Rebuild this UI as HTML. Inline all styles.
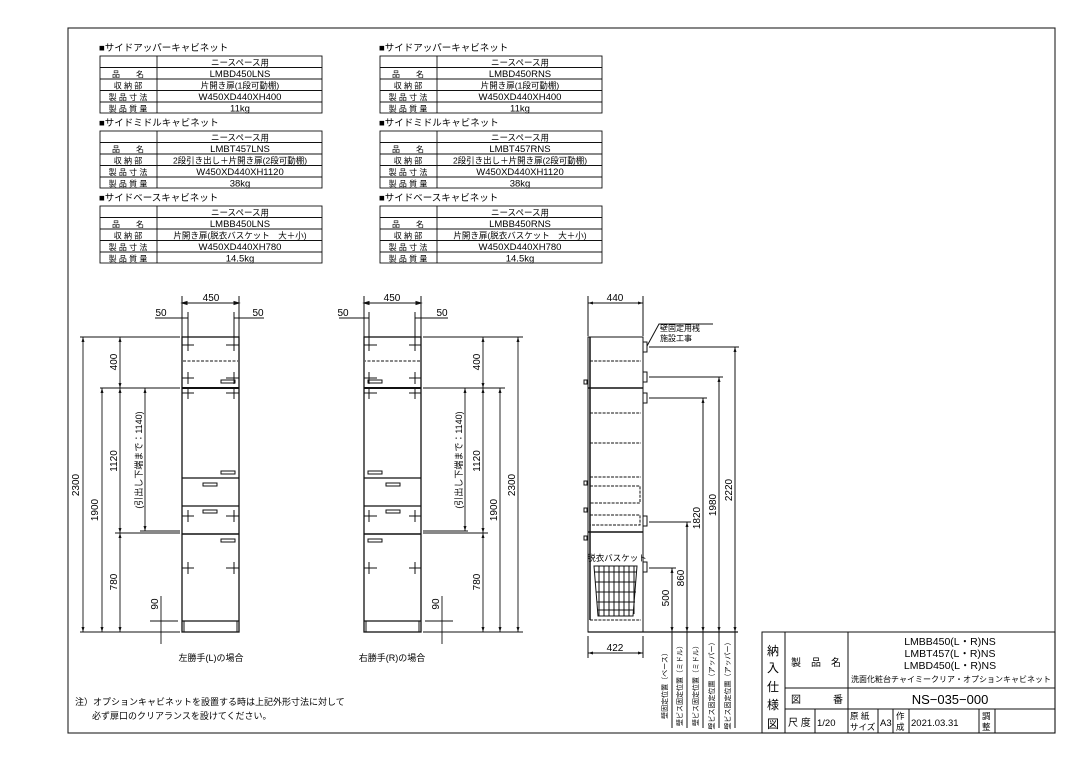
<!DOCTYPE html>
<html><head><meta charset="utf-8"><style>
html,body{margin:0;padding:0;background:#fff}
svg{display:block}
text{font-family:"Liberation Sans","Noto Sans CJK JP",sans-serif;fill:#000}
</style></head><body>
<svg width="1080" height="764" viewBox="0 0 1080 764" xmlns="http://www.w3.org/2000/svg">
<rect width="1080" height="764" fill="#fff"/>
<rect x="68" y="28" width="987" height="705" fill="none" stroke="#222" stroke-width="1.1"/>

<g font-size="9.5">
<text x="99" y="51">■サイドアッパーキャビネット</text>
<text x="99" y="126">■サイドミドルキャビネット</text>
<text x="99" y="201">■サイドベースキャビネット</text>
<text x="379" y="51">■サイドアッパーキャビネット</text>
<text x="379" y="126">■サイドミドルキャビネット</text>
<text x="379" y="201">■サイドベースキャビネット</text>
</g>
<g fill="none" stroke="#111" stroke-width="0.9">
<rect x="100" y="56" width="222" height="57"/><line x1="157" y1="56" x2="157" y2="113"/>
<line x1="100" y1="67.5" x2="322" y2="67.5"/><line x1="100" y1="79" x2="322" y2="79"/><line x1="100" y1="90.5" x2="322" y2="90.5"/><line x1="100" y1="102" x2="322" y2="102"/>
<rect x="100" y="131" width="222" height="57"/><line x1="157" y1="131" x2="157" y2="188"/>
<line x1="100" y1="142.5" x2="322" y2="142.5"/><line x1="100" y1="154" x2="322" y2="154"/><line x1="100" y1="165.5" x2="322" y2="165.5"/><line x1="100" y1="177" x2="322" y2="177"/>
<rect x="100" y="206" width="222" height="57"/><line x1="157" y1="206" x2="157" y2="263"/>
<line x1="100" y1="217.5" x2="322" y2="217.5"/><line x1="100" y1="229" x2="322" y2="229"/><line x1="100" y1="240.5" x2="322" y2="240.5"/><line x1="100" y1="252" x2="322" y2="252"/>
<rect x="380" y="56" width="222" height="57"/><line x1="437" y1="56" x2="437" y2="113"/>
<line x1="380" y1="67.5" x2="602" y2="67.5"/><line x1="380" y1="79" x2="602" y2="79"/><line x1="380" y1="90.5" x2="602" y2="90.5"/><line x1="380" y1="102" x2="602" y2="102"/>
<rect x="380" y="131" width="222" height="57"/><line x1="437" y1="131" x2="437" y2="188"/>
<line x1="380" y1="142.5" x2="602" y2="142.5"/><line x1="380" y1="154" x2="602" y2="154"/><line x1="380" y1="165.5" x2="602" y2="165.5"/><line x1="380" y1="177" x2="602" y2="177"/>
<rect x="380" y="206" width="222" height="57"/><line x1="437" y1="206" x2="437" y2="263"/>
<line x1="380" y1="217.5" x2="602" y2="217.5"/><line x1="380" y1="229" x2="602" y2="229"/><line x1="380" y1="240.5" x2="602" y2="240.5"/><line x1="380" y1="252" x2="602" y2="252"/>
</g>
<g font-size="9.5" text-anchor="middle">
<text x="240" y="65.5" font-size="8.5">ニースペース用</text>
<text x="128" y="77" font-size="8">品　　名</text><text x="240" y="77">LMBD450LNS</text>
<text x="128" y="88.5" font-size="8">収 納 部</text><text x="240" y="88.5" font-size="8.5">片開き扉(1段可動棚)</text>
<text x="128" y="100" font-size="8">製 品 寸 法</text><text x="240" y="100">W450XD440XH400</text>
<text x="128" y="111.5" font-size="8">製 品 質 量</text><text x="240" y="111.5">11kg</text>
<text x="240" y="140.5" font-size="8.5">ニースペース用</text>
<text x="128" y="152" font-size="8">品　　名</text><text x="240" y="152">LMBT457LNS</text>
<text x="128" y="163.5" font-size="8">収 納 部</text><text x="240" y="163.5" font-size="8.5">2段引き出し＋片開き扉(2段可動棚)</text>
<text x="128" y="175" font-size="8">製 品 寸 法</text><text x="240" y="175">W450XD440XH1120</text>
<text x="128" y="186.5" font-size="8">製 品 質 量</text><text x="240" y="186.5">38kg</text>
<text x="240" y="215.5" font-size="8.5">ニースペース用</text>
<text x="128" y="227" font-size="8">品　　名</text><text x="240" y="227">LMBB450LNS</text>
<text x="128" y="238.5" font-size="8">収 納 部</text><text x="240" y="238.5" font-size="8.5">片開き扉(脱衣バスケット　大＋小)</text>
<text x="128" y="250" font-size="8">製 品 寸 法</text><text x="240" y="250">W450XD440XH780</text>
<text x="128" y="261.5" font-size="8">製 品 質 量</text><text x="240" y="261.5">14.5kg</text>
<text x="520" y="65.5" font-size="8.5">ニースペース用</text>
<text x="408" y="77" font-size="8">品　　名</text><text x="520" y="77">LMBD450RNS</text>
<text x="408" y="88.5" font-size="8">収 納 部</text><text x="520" y="88.5" font-size="8.5">片開き扉(1段可動棚)</text>
<text x="408" y="100" font-size="8">製 品 寸 法</text><text x="520" y="100">W450XD440XH400</text>
<text x="408" y="111.5" font-size="8">製 品 質 量</text><text x="520" y="111.5">11kg</text>
<text x="520" y="140.5" font-size="8.5">ニースペース用</text>
<text x="408" y="152" font-size="8">品　　名</text><text x="520" y="152">LMBT457RNS</text>
<text x="408" y="163.5" font-size="8">収 納 部</text><text x="520" y="163.5" font-size="8.5">2段引き出し＋片開き扉(2段可動棚)</text>
<text x="408" y="175" font-size="8">製 品 寸 法</text><text x="520" y="175">W450XD440XH1120</text>
<text x="408" y="186.5" font-size="8">製 品 質 量</text><text x="520" y="186.5">38kg</text>
<text x="520" y="215.5" font-size="8.5">ニースペース用</text>
<text x="408" y="227" font-size="8">品　　名</text><text x="520" y="227">LMBB450RNS</text>
<text x="408" y="238.5" font-size="8">収 納 部</text><text x="520" y="238.5" font-size="8.5">片開き扉(脱衣バスケット　大＋小)</text>
<text x="408" y="250" font-size="8">製 品 寸 法</text><text x="520" y="250">W450XD440XH780</text>
<text x="408" y="261.5" font-size="8">製 品 質 量</text><text x="520" y="261.5">14.5kg</text>
</g>

<defs>
<g id="cab" fill="none" stroke="#111" stroke-width="1">
<rect x="182" y="337" width="57" height="295" stroke-width="1.3"/>
<line x1="182" y1="388" x2="239" y2="388" stroke-width="2"/>
<line x1="183" y1="361" x2="238" y2="361" stroke-dasharray="3,1.5"/>
<line x1="182" y1="478" x2="239" y2="478" stroke-width="1.3"/>
<line x1="182" y1="506" x2="239" y2="506" stroke-width="1.3"/>
<line x1="182" y1="534" x2="239" y2="534" stroke-width="1.6"/>
<line x1="182" y1="621" x2="239" y2="621" stroke-width="1.3"/>
<line x1="184" y1="621" x2="184" y2="632"/><line x1="237" y1="621" x2="237" y2="632"/>
<rect x="221" y="380" width="14" height="3"/>
<rect x="221" y="471" width="14" height="3"/>
<rect x="203" y="483" width="14" height="3"/>
<rect x="203" y="510" width="14" height="3"/>
<rect x="221" y="539" width="14" height="3"/>
<path d="M182 345h12M188 339v12M226 345h13M234 339v12M182 378h12M188 372v12M226 378h13M234 372v12M182 393h12M188 389v10M226 393h13M234 389v10M182 516h12M188 510v12M226 516h13M234 510v12M182 568h12M188 562v12M226 568h13M234 562v12"/>
<path d="M182 296v42M239 296v42M182 303h57M155 318h27M239 318h25M188 312v30M234 312v30M182 318h6M234 318h5"/>
<path d="M182 303l5 -1.5v3zM239 303l-5 -1.5v3z" fill="#111"/>
</g>
</defs>
<use href="#cab"/>
<use href="#cab" transform="matrix(-1 0 0 1 603 0)"/>

<g fill="none" stroke="#111" stroke-width="0.9">
<path d="M80 337h100M100 388h80M115 533h65M80 632h100M140 388h40M140 531h40"/>
<path d="M83 337v295M102 388v244M120 337v295M145 388v143M161 596v48M150 621h28"/>
<path d="M116 388h8M116 533h8M157 632h8"/>
<path d="M423 337h100M423 388h82M423 533h65M423 632h100M423 388h45M423 531h45"/>
<path d="M518 337v295M500 388v244M483 337v295M465 388v143M442 596v48M425 621h28"/>
<path d="M479 388h8M479 533h8M438 632h8"/>
</g>
<g fill="#111">
<path d="M83 337l-1.5 5h3zM83 632l-1.5-5h3zM102 388l-1.5 5h3zM102 632l-1.5-5h3zM120 337l-1.5 5h3zM120 388l-1.5-5h3zM120 388l-1.5 5h3zM120 533l-1.5-5h3zM120 533l-1.5 5h3zM120 632l-1.5-5h3zM145 388l-1.5 5h3zM145 531l-1.5-5h3z"/>
<path d="M518 337l-1.5 5h3zM518 632l-1.5-5h3zM500 388l-1.5 5h3zM500 632l-1.5-5h3zM483 337l-1.5 5h3zM483 388l-1.5-5h3zM483 388l-1.5 5h3zM483 533l-1.5-5h3zM483 533l-1.5 5h3zM483 632l-1.5-5h3zM465 388l-1.5 5h3zM465 531l-1.5-5h3z"/>
</g>
<g font-size="10" text-anchor="middle">
<text x="211" y="301">450</text><text x="161" y="316">50</text><text x="258" y="316">50</text>
<text x="392" y="301">450</text><text x="343" y="316">50</text><text x="442" y="316">50</text>
<text transform="translate(79,485) rotate(-90)">2300</text>
<text transform="translate(98,510) rotate(-90)">1900</text>
<text transform="translate(117,362) rotate(-90)">400</text>
<text transform="translate(117,461) rotate(-90)">1120</text>
<text transform="translate(117,582) rotate(-90)">780</text>
<text transform="translate(158,604) rotate(-90)">90</text>
<text transform="translate(142,460) rotate(-90)" font-size="9">(引出し下端まで：1140)</text>
<text transform="translate(480,362) rotate(-90)">400</text>
<text transform="translate(480,461) rotate(-90)">1120</text>
<text transform="translate(480,582) rotate(-90)">780</text>
<text transform="translate(497,510) rotate(-90)">1900</text>
<text transform="translate(515,485) rotate(-90)">2300</text>
<text transform="translate(439,604) rotate(-90)">90</text>
<text transform="translate(462,460) rotate(-90)" font-size="9">(引出し下端まで：1140)</text>
<text x="211" y="661" font-size="9">左勝手(L)の場合</text>
<text x="392" y="661" font-size="9">右勝手(R)の場合</text>
</g>

<g fill="none" stroke="#111" stroke-width="1">
<rect x="588" y="337" width="55" height="295"/>
<line x1="588" y1="388" x2="643" y2="388" stroke-width="1.4"/>
<line x1="588" y1="532" x2="643" y2="532" stroke-width="1.4"/>
<line x1="590" y1="337" x2="590" y2="620" stroke-width="1.5"/>
<path d="M590 361h51M590 413h51M590 443h51M590 477h51" stroke-dasharray="3,1.2"/>
<rect x="590" y="486" width="50" height="17" stroke-dasharray="3,1.2"/>
<rect x="590" y="515" width="50" height="10" stroke-dasharray="3,1.2"/>
<path d="M590 620h51" stroke-dasharray="3,1.2"/>
<path d="M584 380h3v4h-3zM584 481h3v4h-3zM584 508h3v4h-3zM584 536h3v4h-3z"/>
<path d="M643 342h4v10h-4zM643 372h4v10h-4zM643 393h4v10h-4zM643 516h4v10h-4zM643 562h4v10h-4z"/>
<path d="M594 566h43l-4 50h-35z"/>
<path d="M594 572h43M595 582h41M596 592h40M597 602h38M598 610h36"/>
<path d="M599 566v50M604 566v50M609 566v50M614 566v50M619 566v50M624 566v50M629 566v50M634 566v48"/>
<path d="M588 296v40M643 296v40M588 303h55M588 636v22M643 636v22M588 653h55"/>
<path d="M588 632h150" stroke-width="1.3"/>
<path d="M649 347h90M649 377h74M649 398h58M649 522h42M649 568h27"/>
<path d="M735 347v285M719 377v255M703 398v234M687 522v110M672 568v64"/>
<path d="M672 632v96M687 632v96M703 632v96M719 632v96M735 632v96"/>
<path d="M647 346l12-22h54"/>
</g>
<g fill="#111">
<path d="M588 303l5-1.5v3zM643 303l-5-1.5v3zM588 653l5-1.5v3zM643 653l-5-1.5v3z"/>
<path d="M735 347l-1.5 5h3zM719 377l-1.5 5h3zM703 398l-1.5 5h3zM687 522l-1.5 5h3zM672 568l-1.5 5h3z"/>
<path d="M735 632l-1.5-5h3zM719 632l-1.5-5h3zM703 632l-1.5-5h3zM687 632l-1.5-5h3zM672 632l-1.5-5h3z"/>
</g>
<g font-size="10" text-anchor="middle">
<text x="615" y="301">440</text><text x="615" y="651">422</text>
<text x="660" y="331" font-size="8" text-anchor="start">壁固定用桟</text>
<text x="660" y="341" font-size="8" text-anchor="start">施設工事</text>
<text x="617" y="561" font-size="8.5">脱衣バスケット</text>
<text transform="translate(669,598) rotate(-90)">500</text>
<text transform="translate(684,578) rotate(-90)">860</text>
<text transform="translate(700,518) rotate(-90)">1820</text>
<text transform="translate(716,505) rotate(-90)">1980</text>
<text transform="translate(732,490) rotate(-90)">2220</text>
<g font-size="7">
<text transform="translate(667,684) rotate(-90)">壁固定位置（ベース）</text>
<text transform="translate(682,684) rotate(-90)">壁ビス固定位置（ミドル）</text>
<text transform="translate(698,684) rotate(-90)">壁ビス固定位置（ミドル）</text>
<text transform="translate(714,684) rotate(-90)">壁ビス固定位置（アッパー）</text>
<text transform="translate(730,684) rotate(-90)">壁ビス固定位置（アッパー）</text>
</g>
</g>

<text x="75" y="705" font-size="9">注）オプションキャビネットを設置する時は上記外形寸法に対して</text>
<text x="92" y="719" font-size="9">必ず扉口のクリアランスを設けてください。</text>

<g fill="none" stroke="#111" stroke-width="1">
<rect x="762" y="632" width="293" height="101"/>
<path d="M785 632v101M848 632v101M785 688h270M785 709h270M815 709v24M878 709v24M893 709v24M909 709v24M979 709v24M995 709v24"/>
</g>
<g font-size="10">
<text x="767" y="655" font-size="12">納</text><text x="767" y="672" font-size="12">入</text><text x="767" y="691" font-size="12">仕</text><text x="767" y="709" font-size="12">様</text><text x="767" y="728" font-size="12">図</text>
<text x="791" y="666">製　品　名</text>
<text x="791" y="703">図</text><text x="833" y="703">番</text>
<text x="788" y="726">尺 度</text>
<text x="817" y="726" font-size="9.5">1/20</text>
<text x="850" y="719" font-size="8.5">原 紙</text><text x="850" y="730" font-size="8.5">サイズ</text>
<text x="880" y="726" font-size="9.5">A3</text>
<text x="896" y="719" font-size="8.5">作</text><text x="896" y="730" font-size="8.5">成</text>
<text x="911" y="726" font-size="9.5">2021.03.31</text>
<text x="982" y="719" font-size="8.5">調</text><text x="982" y="730" font-size="8.5">整</text>
<g text-anchor="middle" font-size="10.5">
<text x="950" y="645">LMBB450(L・R)NS</text>
<text x="950" y="657">LMBT457(L・R)NS</text>
<text x="950" y="669">LMBD450(L・R)NS</text>
<text x="951" y="682" font-size="8">洗面化粧台チャイミークリア・オプションキャビネット</text>
<text x="950" y="704" font-size="13">NS−035−000</text>
</g>
</g>
</svg>
</body></html>
